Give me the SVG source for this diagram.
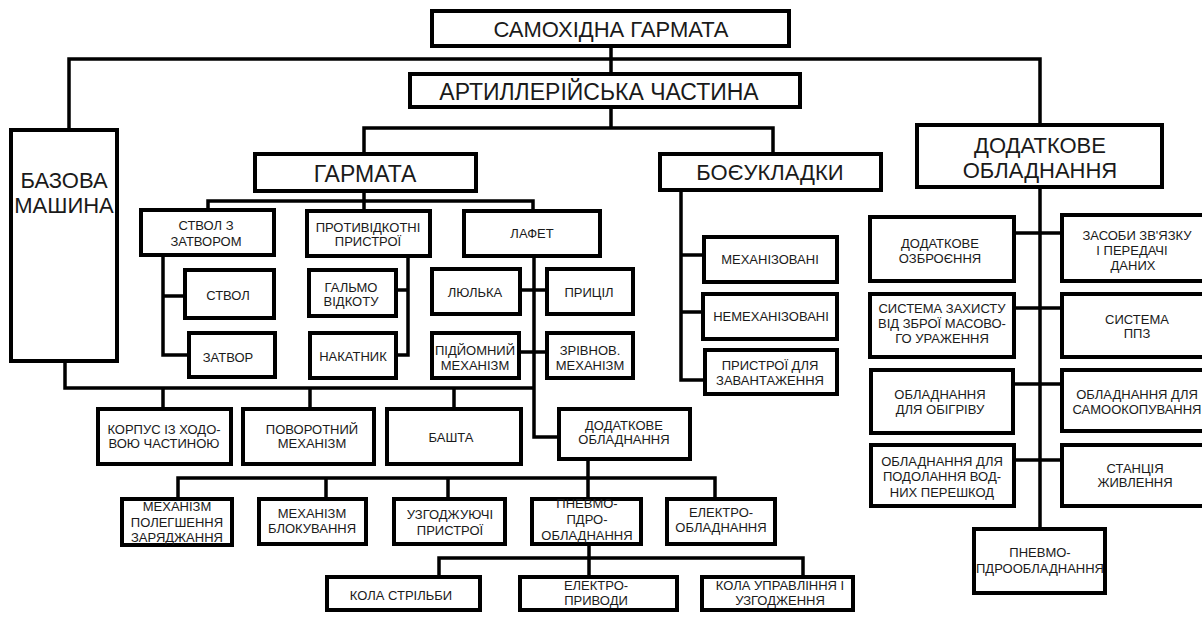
<svg xmlns="http://www.w3.org/2000/svg" width="1202" height="617" viewBox="0 0 1202 617">
<style>
.b{fill:#fff;stroke:#000;stroke-width:4}
.c{fill:none;stroke:#000;stroke-width:3.5}
text{font-family:"Liberation Sans",Arial,sans-serif;fill:#1a1a1a;text-anchor:middle}
.t{font-size:13px}
.T{font-size:22px}
</style>
<rect width="1202" height="617" fill="#fff"/>
<g id="connectors">
<path class="c" d="M611 48V72M69 128V59H1040V123M611 109V128M364 152V128H773V152"/>
<path class="c" d="M364 193V209M208 209V201H533V210"/>
<path class="c" d="M163 257V355H187M163 296H183M408 258V355H398M408 290H398"/>
<path class="c" d="M534 258V437H557M522 290H545M521 352H545"/>
<path class="c" d="M65 363V388H534M163 388V407M310 388V407M454 388V407"/>
<path class="c" d="M681 192V380H703M681 255H702M681 312H701"/>
<path class="c" d="M1040 189V527M1016 233H1060M1016 308H1060M1015 384H1060M1016 460H1060"/>
<path class="c" d="M588 461V497M178 497V478H715V497M326 478V497M448 478V497"/>
<path class="c" d="M589 546V575M439 575V558H803V575"/>
</g>
<g id="n-top"><rect class="b" x="432" y="11" width="357" height="35"/><text class="T" x="611" y="37">САМОХІДНА ГАРМАТА</text></g>
<g id="n-art"><rect class="b" x="410" y="74" width="390" height="33"/><text class="T" x="599" y="100" style="font-size:23px">АРТИЛЛЕРІЙСЬКА ЧАСТИНА</text></g>
<g id="n-base"><rect class="b" x="11" y="130" width="106" height="231"/><text class="T" x="64" y="188">БАЗОВА</text><text class="T" x="64" y="213">МАШИНА</text></g>
<g id="n-gun"><rect class="b" x="255" y="154" width="221" height="37"/><text class="T" x="365" y="182" style="font-size:23px">ГАРМАТА</text></g>
<g id="n-ammo"><rect class="b" x="660" y="154" width="221" height="36"/><text class="T" x="770" y="180">БОЄУКЛАДКИ</text></g>
<g id="n-extra"><rect class="b" x="917" y="125" width="245" height="62"/><text class="T" x="1040" y="153">ДОДАТКОВЕ</text><text class="T" x="1040" y="178">ОБЛАДНАННЯ</text></g>
<g id="n-barrelbreech"><rect class="b" x="141" y="210" width="133" height="45"/><text class="t" x="206" y="230">СТВОЛ З</text><text class="t" x="206" y="246">ЗАТВОРОМ</text></g>
<g id="n-recoil"><rect class="b" x="307" y="211" width="123" height="45"/><text class="t" x="368" y="232">ПРОТИВІДКОТНІ</text><text class="t" x="368" y="246">ПРИСТРОЇ</text></g>
<g id="n-carriage"><rect class="b" x="464" y="211" width="136" height="45"/><text class="t" x="532" y="238">ЛАФЕТ</text></g>
<g id="n-barrel"><rect class="b" x="185" y="270" width="89" height="48"/><text class="t" x="228" y="300">СТВОЛ</text></g>
<g id="n-breech"><rect class="b" x="189" y="333" width="86" height="44"/><text class="t" x="228" y="362">ЗАТВОР</text></g>
<g id="n-brake"><rect class="b" x="309" y="270" width="87" height="46"/><text class="t" x="351" y="292">ГАЛЬМО</text><text class="t" x="351" y="306">ВІДКОТУ</text></g>
<g id="n-recuperator"><rect class="b" x="310" y="333" width="86" height="45"/><text class="t" x="353" y="361">НАКАТНИК</text></g>
<g id="n-cradle"><rect class="b" x="432" y="269" width="88" height="45"/><text class="t" x="475" y="297">ЛЮЛЬКА</text></g>
<g id="n-sight"><rect class="b" x="547" y="269" width="86" height="45"/><text class="t" x="589" y="297">ПРИЦІЛ</text></g>
<g id="n-elevating"><rect class="b" x="432" y="333" width="87" height="45"/><text class="t" x="475" y="355">ПІДЙОМНИЙ</text><text class="t" x="475" y="370">МЕХАНІЗМ</text></g>
<g id="n-balancing"><rect class="b" x="547" y="333" width="86" height="45"/><text class="t" x="590" y="355">ЗРІВНОВ.</text><text class="t" x="590" y="370">МЕХАНІЗМ</text></g>
<g id="n-mech"><rect class="b" x="704" y="237" width="133" height="45"/><text class="t" x="770" y="264">МЕХАНІЗОВАНІ</text></g>
<g id="n-nonmech"><rect class="b" x="703" y="294" width="134" height="45"/><text class="t" x="771" y="321">НЕМЕХАНІЗОВАНІ</text></g>
<g id="n-loading"><rect class="b" x="705" y="350" width="132" height="44"/><text class="t" x="770" y="370">ПРИСТРОЇ ДЛЯ</text><text class="t" x="770" y="385">ЗАВАНТАЖЕННЯ</text></g>
<g id="n-hull"><rect class="b" x="98" y="409" width="133" height="55"/><text class="t" x="164" y="434">КОРПУС ІЗ ХОДО-</text><text class="t" x="164" y="448">ВОЮ ЧАСТИНОЮ</text></g>
<g id="n-traverse"><rect class="b" x="243" y="409" width="131" height="55"/><text class="t" x="312" y="434">ПОВОРОТНИЙ</text><text class="t" x="312" y="448">МЕХАНІЗМ</text></g>
<g id="n-turret"><rect class="b" x="387" y="409" width="134" height="55"/><text class="t" x="451" y="442">БАШТА</text></g>
<g id="n-addequip"><rect class="b" x="559" y="409" width="131" height="50"/><text class="t" x="624" y="430">ДОДАТКОВЕ</text><text class="t" x="624" y="444">ОБЛАДНАННЯ</text></g>
<g id="n-rammer"><rect class="b" x="122" y="499" width="110" height="46"/><text class="t" x="177" y="511">МЕХАНІЗМ</text><text class="t" x="177" y="527">ПОЛЕГШЕННЯ</text><text class="t" x="177" y="542">ЗАРЯДЖАННЯ</text></g>
<g id="n-lock"><rect class="b" x="259" y="499" width="107" height="45"/><text class="t" x="312" y="518">МЕХАНІЗМ</text><text class="t" x="312" y="533">БЛОКУВАННЯ</text></g>
<g id="n-sync"><rect class="b" x="394" y="499" width="111" height="45"/><text class="t" x="450" y="519">УЗГОДЖУЮЧІ</text><text class="t" x="450" y="535">ПРИСТРОЇ</text></g>
<g id="n-pneumo"><rect class="b" x="532" y="499" width="109" height="45"/><text class="t" x="587" y="508">ПНЕВМО-</text><text class="t" x="587" y="524">ПДРО-</text><text class="t" x="587" y="540">ОБЛАДНАННЯ</text></g>
<g id="n-electro"><rect class="b" x="667" y="499" width="108" height="45"/><text class="t" x="721" y="517">ЕЛЕКТРО-</text><text class="t" x="721" y="532">ОБЛАДНАННЯ</text></g>
<g id="n-firing"><rect class="b" x="327" y="577" width="153" height="33"/><text class="t" x="401" y="600">КОЛА СТРІЛЬБИ</text></g>
<g id="n-drives"><rect class="b" x="520" y="577" width="157" height="33"/><text class="t" x="596" y="590">ЕЛЕКТРО-</text><text class="t" x="596" y="605">ПРИВОДИ</text></g>
<g id="n-control"><rect class="b" x="702" y="577" width="151" height="33"/><text class="t" x="780" y="590">КОЛА УПРАВЛІННЯ І</text><text class="t" x="780" y="605">УЗГОДЖЕННЯ</text></g>
<g id="n-addarm"><rect class="b" x="870" y="217" width="144" height="64"/><text class="t" x="940" y="248">ДОДАТКОВЕ</text><text class="t" x="940" y="263">ОЗБРОЄННЯ</text></g>
<g id="n-comms"><rect class="b" x="1062" y="215" width="150" height="66"/><text class="t" x="1137" y="240">ЗАСОБИ ЗВ'ЯЗКУ</text><text class="t" x="1132" y="255">І ПЕРЕДАЧІ</text><text class="t" x="1133" y="270">ДАНИХ</text></g>
<g id="n-wmd"><rect class="b" x="870" y="294" width="144" height="63"/><text class="t" x="942" y="313">СИСТЕМА ЗАХИСТУ</text><text class="t" x="942" y="328">ВІД ЗБРОЇ МАСОВО-</text><text class="t" x="942" y="343">ГО УРАЖЕННЯ</text></g>
<g id="n-fire"><rect class="b" x="1062" y="294" width="150" height="63"/><text class="t" x="1137" y="324">СИСТЕМА</text><text class="t" x="1137" y="338">ППЗ</text></g>
<g id="n-heat"><rect class="b" x="871" y="370" width="142" height="63"/><text class="t" x="940" y="399">ОБЛАДНАННЯ</text><text class="t" x="940" y="414">ДЛЯ ОБІГРІВУ</text></g>
<g id="n-dig"><rect class="b" x="1062" y="370" width="150" height="61"/><text class="t" x="1137" y="399">ОБЛАДНАННЯ ДЛЯ</text><text class="t" x="1137" y="414">САМООКОПУВАННЯ</text></g>
<g id="n-water"><rect class="b" x="871" y="445" width="143" height="61"/><text class="t" x="942" y="466">ОБЛАДНАННЯ ДЛЯ</text><text class="t" x="942" y="481">ПОДОЛАННЯ ВОД-</text><text class="t" x="942" y="497">НИХ ПЕРЕШКОД</text></g>
<g id="n-power"><rect class="b" x="1062" y="445" width="150" height="61"/><text class="t" x="1135" y="473">СТАНЦІЯ</text><text class="t" x="1135" y="487">ЖИВЛЕННЯ</text></g>
<g id="n-pneumo2"><rect class="b" x="974" y="529" width="131" height="64"/><text class="t" x="1040" y="557">ПНЕВМО-</text><text class="t" x="1040" y="573">ПДРООБЛАДНАННЯ</text></g>
</svg>
